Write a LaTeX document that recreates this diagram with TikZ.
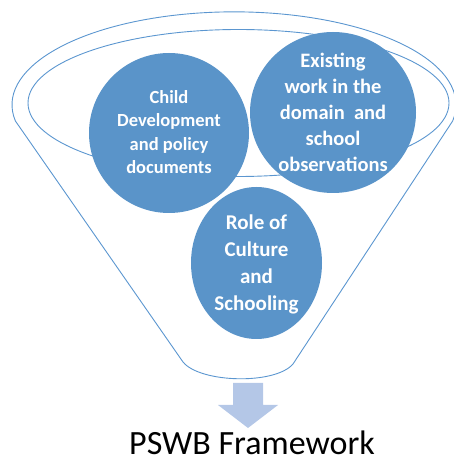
\documentclass[tikz,border=0pt]{standalone}
\usepackage{fontspec}
\setmainfont{Carlito}
\definecolor{funnelline}{RGB}{91,150,208}
\definecolor{circfill}{RGB}{90,148,201}
\definecolor{arrowfill}{RGB}{180,199,231}
\tikzset{
  funnel/.style={draw=funnelline, line width=0.9pt},
  blob/.style={fill=circfill, draw=none},
  blobtext/.style={text=white, align=center, font=\bfseries},
}
\begin{document}
\begin{tikzpicture}[x=1pt,y=1pt]
\useasboundingbox (0,0) rectangle (454,463);
% outer funnel
\draw[funnel] (15.4,342) arc[start angle=190, end angle=-10, x radius=222, y radius=93]
  -- (293,99) .. controls (275,78) and (200,80) .. (183,101) -- cycle;
% inner rim
\draw[funnel] (238.5,360) ellipse[x radius=210.5, y radius=73.5];
% circles
\fill[blob] (169,330) circle[radius=80];
\fill[blob] (333,350.5) ellipse[x radius=83, y radius=80.5];
\fill[blob] (256.5,200) ellipse[x radius=65.5, y radius=76];
\node[blobtext, font=\fontsize{18.5}{23.5}\selectfont\bfseries] (c1) at (169,331)
  {Child\\Development\\and policy\\documents};
\node[blobtext, font=\fontsize{20.5}{26}\selectfont\bfseries] (c2) at (333,351)
  {Existing\\work in the\\domain~ and\\school\\observations};
\node[blobtext, font=\fontsize{21}{27}\selectfont\bfseries] (c3) at (256.5,198.5)
  {Role of\\Culture\\and\\Schooling};
% arrow
\fill[arrowfill] (233,80) -- (263,80) -- (263,58) -- (278,58) -- (248,35) -- (218,58) -- (233,58) -- cycle;
% title
\node[anchor=base west, inner sep=0pt, text depth=0pt, font=\fontsize{34}{40}\selectfont] (title) at (129,9) {PSWB Framework};
\end{tikzpicture}
\end{document}
